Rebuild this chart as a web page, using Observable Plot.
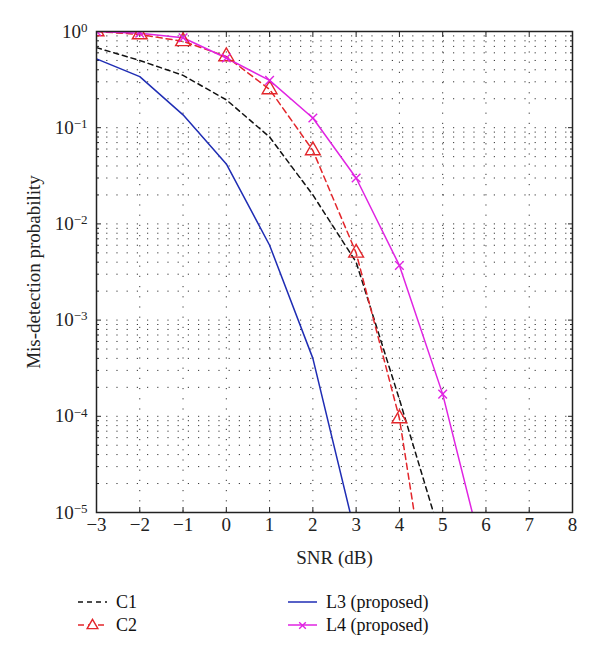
<!DOCTYPE html>
<html>
<head>
<meta charset="utf-8">
<script src="https://cdn.jsdelivr.net/npm/d3@7"></script>
<script src="https://cdn.jsdelivr.net/npm/@observablehq/plot@0.6"></script>
<style>
  html, body { margin: 0; padding: 0; background: #fff; }
  body { width: 600px; height: 658px; font-family: "Liberation Serif", "DejaVu Serif", serif; }
  #chart svg { display: block; }
  #chart svg g[aria-label="x-axis tick label"] text,
  #chart svg g[aria-label="y-axis tick label"] text {
    font-size: 19px !important; font-family: "Liberation Serif", serif !important;
  }
  #chart svg g[aria-label="y-axis tick label"] text tspan.sup { font-size: 13px !important; }
  .legend { position: relative; height: 83px; font-size: 18px; color: #111; font-family: "Liberation Serif", serif; }
  .item { position: absolute; display: flex; align-items: center; height: 22px; }
  .item svg { margin-right: 9px; }
</style>
</head>
<body>
<div id="chart"></div>
<div class="legend" id="legend"></div>
<script>
// ---- data ----
const snr = [-3, -2, -1, 0, 1, 2, 3, 4, 5, 6];
const c1 = [0.68, 0.50, 0.35, 0.195, 0.08, 0.02, 0.0040, 1.5e-4, 4.8e-6];
const c2 = [1.0, 0.93, 0.79, 0.55, 0.25, 0.058, 0.005, 9.5e-5, 1.3e-7];
const l3 = [0.52, 0.34, 0.136, 0.042, 0.006, 4.0e-4, 5.5e-6];
const l4 = [1.0, 0.96, 0.86, 0.53, 0.31, 0.126, 0.030, 0.0037, 1.7e-4, 2.7e-6];
const seriesNames = ["C1", "C2", "L3 (proposed)", "L4 (proposed)"];
const xTicks = [-3, -2, -1, 0, 1, 2, 3, 4, 5, 6, 7, 8];
const yMajor = [1e-5, 1e-4, 1e-3, 1e-2, 1e-1, 1];
const yMinor = [2,3,4,5,6,7,8,9].flatMap(m => [1e-5, 1e-4, 1e-3, 1e-2, 1e-1].map(d => m * d));

const toRows = (vals) => vals.map((v, i) => ({x: snr[i], y: v}));
const C1 = toRows(c1), C2 = toRows(c2), L3 = toRows(l3), L4 = toRows(l4);

const colors = {C1: "#111111", C2: "#e3262b", L3: "#1f2db4", L4: "#e024e2"};
const ink = "#222";
const serif = "'Liberation Serif', 'DejaVu Serif', serif";

const plot = Plot.plot({
  width: 600,
  height: 575,
  marginLeft: 96,
  marginRight: 28,
  marginTop: 31,
  marginBottom: 63,
  style: {fontFamily: serif, fontSize: "19px", color: ink, background: "#fff"},
  x: {domain: [-3, 8]},
  y: {type: "log", domain: [1e-5, 1]},
  marks: [
    Plot.gridX(xTicks.slice(1, -1), {stroke: ink, strokeOpacity: 0.9, strokeDasharray: "1.2,9"}),
    Plot.gridY(yMajor.slice(1, -1).concat(yMinor), {stroke: ink, strokeOpacity: 0.9, strokeDasharray: "1.2,9"}),
    // inward ticks
    Plot.axisX(xTicks, {anchor: "bottom", tickSize: -5, fill: "none", label: null, stroke: ink}),
    Plot.axisX(xTicks, {anchor: "top", tickSize: -5, fill: "none", label: null, stroke: ink}),
    Plot.axisY(yMajor, {anchor: "left", tickSize: -5, fill: "none", label: null, stroke: ink}),
    Plot.axisY(yMajor, {anchor: "right", tickSize: -5, fill: "none", label: null, stroke: ink}),
    Plot.axisY(yMinor, {anchor: "left", tickSize: -3, fill: "none", label: null, stroke: ink}),
    Plot.axisY(yMinor, {anchor: "right", tickSize: -3, fill: "none", label: null, stroke: ink}),
    // labels
    Plot.axisX(xTicks, {anchor: "bottom", tickSize: 0, tickPadding: 5, stroke: "none",
      tickFormat: d => d < 0 ? "\u2212" + Math.abs(d) : String(d),
      label: "SNR (dB)", labelAnchor: "center", labelOffset: 51, labelArrow: "none"}),
    Plot.axisY(yMajor, {anchor: "left", tickSize: 0, tickPadding: 9, stroke: "none",
      tickFormat: d => "10|" + Math.round(Math.log10(d)),
      label: "Mis-detection probability", labelAnchor: "center", labelOffset: 70, labelArrow: "none"}),
    // series
    Plot.line(C1, {x: "x", y: "y", stroke: colors.C1, strokeWidth: 1.5, strokeDasharray: "5,4", clip: true}),
    Plot.line(L3, {x: "x", y: "y", stroke: colors.L3, strokeWidth: 1.5, clip: true}),
    Plot.line(C2, {x: "x", y: "y", stroke: colors.C2, strokeWidth: 1.5, strokeDasharray: "6,4", clip: true}),
    Plot.line(L4, {x: "x", y: "y", stroke: colors.L4, strokeWidth: 1.5, clip: true}),
    Plot.dot(C2, {x: "x", y: "y", symbol: "triangle", r: 5.5, stroke: colors.C2, strokeWidth: 1.4, fill: "none", clip: true}),
    Plot.dot(L4, {x: "x", y: "y", symbol: "times", r: 4, stroke: colors.L4, strokeWidth: 1.4, clip: true}),
    Plot.frame({stroke: ink, strokeWidth: 1.5})
  ]
});

// y tick labels as 10 with a superscript exponent
d3.select(plot).selectAll('g[aria-label="y-axis tick label"] text').each(function () {
  const t = this.textContent;
  if (!t.includes("|")) return;
  const [base, exp] = t.split("|");
  const e = Number(exp);
  const sel = d3.select(this);
  sel.text(null);
  sel.append("tspan").text(base);
  sel.append("tspan").attr("class", "sup").attr("dy", "-0.45em").text(e < 0 ? "\u2212" + Math.abs(e) : String(e));
});

document.getElementById("chart").appendChild(plot);

// legend (HTML, below the SVG)
const legendItems = [
  {name: seriesNames[0], color: colors.C1, dash: "5,4", mark: null, left: 78, top: 16},
  {name: seriesNames[1], color: colors.C2, dash: "6,4", mark: "triangle", left: 78, top: 39},
  {name: seriesNames[2], color: colors.L3, dash: null, mark: null, left: 288, top: 16},
  {name: seriesNames[3], color: colors.L4, dash: null, mark: "times", left: 288, top: 39}
];
const legend = d3.select("#legend");
for (const it of legendItems) {
  const div = legend.append("div").attr("class", "item").style("left", it.left + "px").style("top", it.top + "px");
  const s = div.append("svg").attr("width", 29).attr("height", 14);
  s.append("line").attr("x1", 0).attr("x2", 29).attr("y1", 7).attr("y2", 7)
    .attr("stroke", it.color).attr("stroke-width", 1.5).attr("stroke-dasharray", it.dash);
  if (it.mark) {
    const sym = d3.symbol(it.mark === "triangle" ? d3.symbolTriangle : d3.symbolTimes, it.mark === "triangle" ? 50 : 30);
    s.append("path").attr("d", sym()).attr("transform", "translate(14.5,7.5)")
      .attr("fill", it.mark === "triangle" ? "#fff" : "none").attr("stroke", it.color).attr("stroke-width", 1.4);
  }
  div.append("span").text(it.name);
}
</script>
</body>
</html>
